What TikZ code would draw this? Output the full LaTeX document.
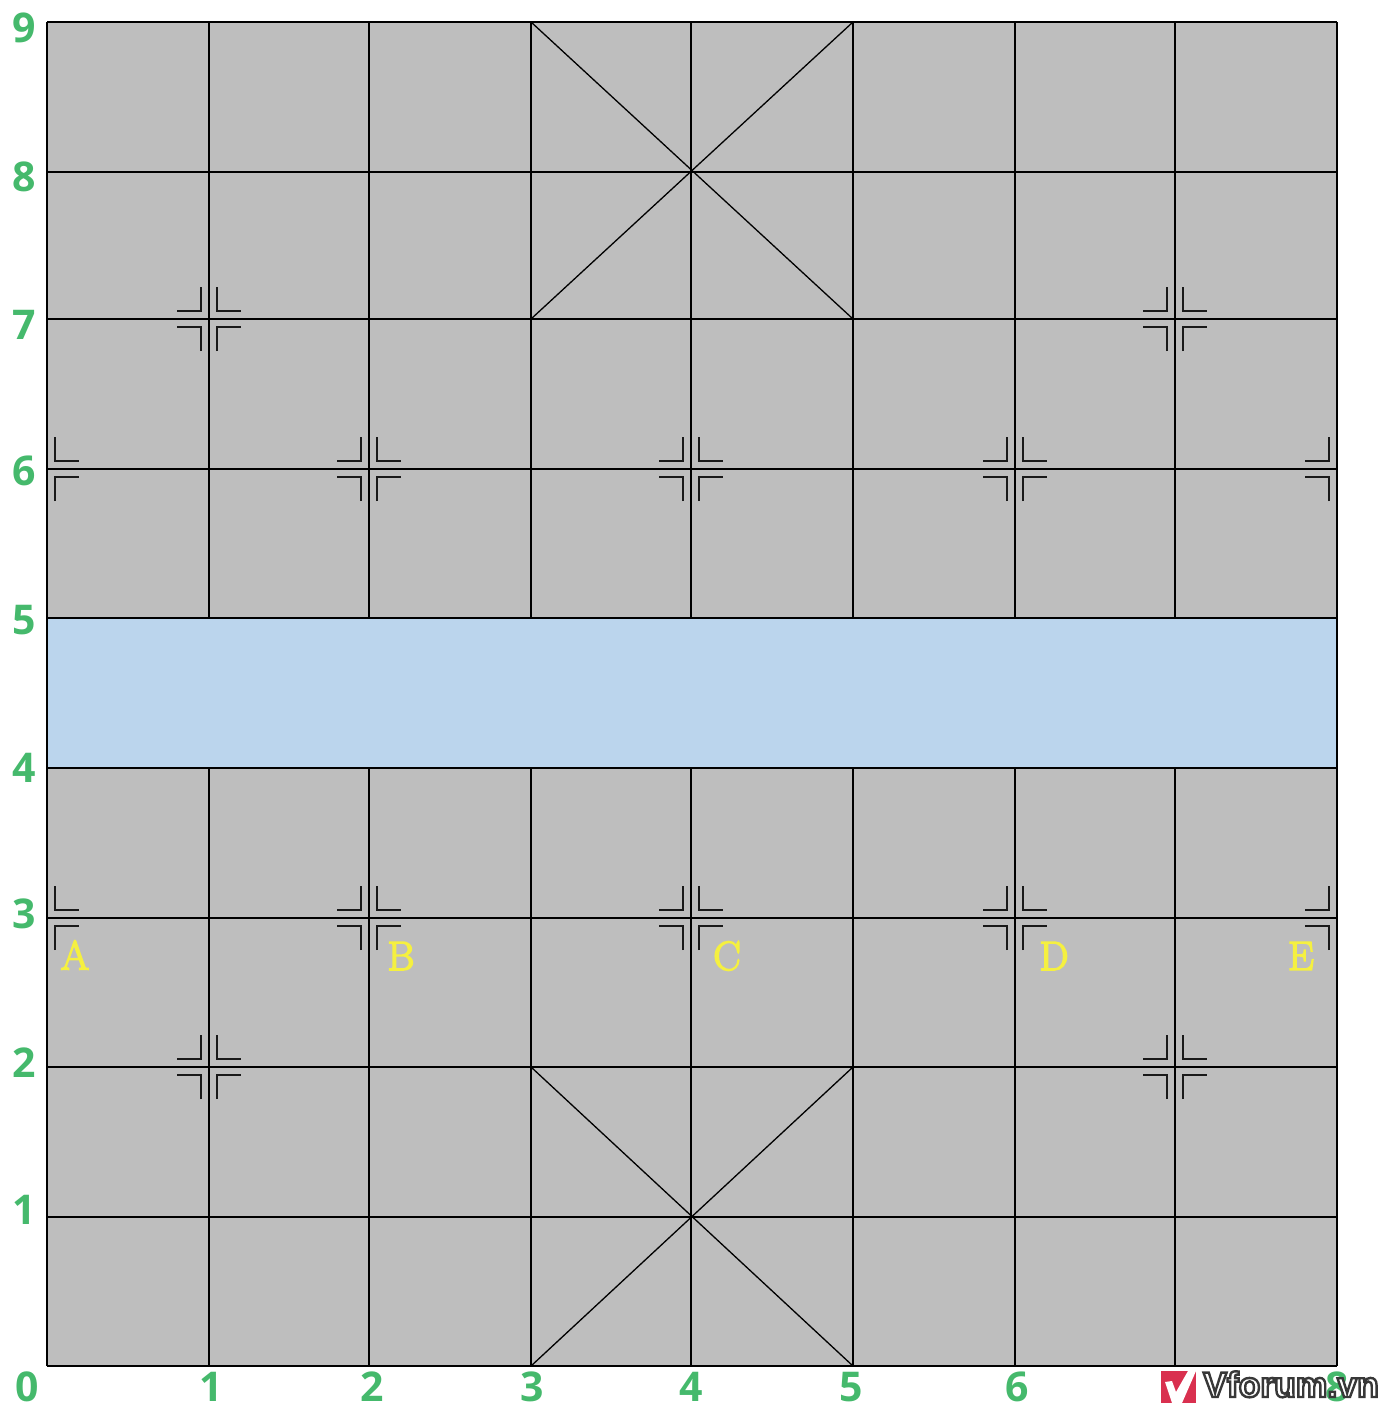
\documentclass[tikz,border=0pt]{standalone}
\usepackage{fontspec}
\setsansfont{Open Sans}
\newfontfamily\logofont{Liberation Sans}
\definecolor{boardgray}{HTML}{BEBEBE}
\definecolor{riverblue}{HTML}{BBD5ED}
\definecolor{labelgreen}{HTML}{45B96C}
\definecolor{logored}{HTML}{D9304F}
\newcommand{\yellowstroke}[1]{\special{pdf:code q 2 Tr 1.5 w 0.96 0.94 0.25 RG 0.96 0.94 0.25 rg}#1\special{pdf:code Q}}
\tikzset{
  x=1pt,y=1pt,
  gridline/.style={black,line width=2pt},
  diagline/.style={black,line width=1.3pt},
  markline/.style={black!90,line width=2pt},
  numlabel/.style={text=labelgreen,font=\sffamily\bfseries\fontsize{41}{41}\selectfont,inner sep=0pt},
  letterlabel/.style={font=\fontsize{41}{41}\selectfont,inner sep=0pt},
  halfE/.pic={
    \draw[markline] (8,32) -- (8,8) -- (32,8);
    \draw[markline] (8,-32) -- (8,-8) -- (32,-8);
  },
  halfW/.pic={
    \draw[markline] (-8,32) -- (-8,8) -- (-32,8);
    \draw[markline] (-8,-32) -- (-8,-8) -- (-32,-8);
  },
  fullmark/.pic={
    \pic {halfE}; \pic {halfW};
  },
}
\begin{document}
\begin{tikzpicture}
\useasboundingbox (0,0) rectangle (1382,-1405);
% grid positions
\coordinate (x0) at (47,0);
\coordinate (x1) at (209,0);
\coordinate (x2) at (369,0);
\coordinate (x3) at (531,0);
\coordinate (x4) at (691,0);
\coordinate (x5) at (853,0);
\coordinate (x6) at (1015,0);
\coordinate (x7) at (1175,0);
\coordinate (x8) at (1337,0);
\coordinate (y9) at (0,-22);
\coordinate (y8) at (0,-172);
\coordinate (y7) at (0,-319);
\coordinate (y6) at (0,-469);
\coordinate (y5) at (0,-618);
\coordinate (y4) at (0,-768);
\coordinate (y3) at (0,-918);
\coordinate (y2) at (0,-1067);
\coordinate (y1) at (0,-1217);
\coordinate (y0) at (0,-1366);
% board and river
\fill[boardgray] (x0 |- y0) rectangle (x8 |- y9);
\fill[riverblue] (x0 |- y4) rectangle (x8 |- y5);
% horizontal lines
\foreach \r in {0,...,9}
  \draw[gridline] (x0 |- y\r) -- (x8 |- y\r);
% outer verticals
\draw[gridline] (x0 |- y0) -- (x0 |- y9);
\draw[gridline] (x8 |- y0) -- (x8 |- y9);
% inner verticals, interrupted by the river
\foreach \c in {1,...,7} {
  \draw[gridline] (x\c |- y0) -- (x\c |- y4);
  \draw[gridline] (x\c |- y5) -- (x\c |- y9);
}
% palace diagonals
\draw[diagline] (x3 |- y0) -- (x5 |- y2);
\draw[diagline] (x3 |- y2) -- (x5 |- y0);
\draw[diagline] (x3 |- y7) -- (x5 |- y9);
\draw[diagline] (x3 |- y9) -- (x5 |- y7);
% position marks
\foreach \c/\r in {1/7,7/7,2/6,4/6,6/6,2/3,4/3,6/3,1/2,7/2}
  \pic at (x\c |- y\r) {fullmark};
\foreach \r in {6,3} {
  \pic at (x0 |- y\r) {halfE};
  \pic at (x8 |- y\r) {halfW};
}
% row numbers
\node[numlabel] (r9) at (24,-28) {9};
\node[numlabel] (r8) at (24,-177) {8};
\node[numlabel] (r7) at (24,-325) {7};
\node[numlabel] (r6) at (24,-471) {6};
\node[numlabel] (r5) at (24,-620) {5};
\node[numlabel] (r4) at (24,-768) {4};
\node[numlabel] (r3) at (24,-914) {3};
\node[numlabel] (r2) at (24,-1063) {2};
\node[numlabel] (r1) at (24,-1210) {1};
% column numbers
\node[numlabel] (c0) at (27,-1387) {0};
\node[numlabel] (c1) at (211,-1387) {1};
\node[numlabel] (c2) at (372,-1387) {2};
\node[numlabel] (c3) at (532,-1387) {3};
\node[numlabel] (c4) at (691,-1387) {4};
\node[numlabel] (c5) at (851,-1387) {5};
\node[numlabel] (c6) at (1017,-1387) {6};
\node[numlabel] (c8) at (1337,-1387) {8};
% letters
\node[letterlabel] (la) at (75,-955) {\yellowstroke{A}};
\node[letterlabel] (lb) at (401,-956) {\yellowstroke{B}};
\node[letterlabel] (lc) at (727,-956) {\yellowstroke{C}};
\node[letterlabel] (ld) at (1054,-956) {\yellowstroke{D}};
\node[letterlabel] (le) at (1301,-956) {\yellowstroke{E}};
% watermark
\fill[logored] (1161,-1371) rectangle (1196,-1403);
\fill[white] (1165,-1382) -- (1172,-1381) -- (1176,-1392) -- (1188,-1371) -- (1196,-1371) -- (1182,-1403) -- (1172,-1403) -- cycle;
\node[anchor=base west,inner sep=0pt] (logo) at (1203,-1397)
  {\logofont\bfseries\fontsize{35.5}{36}\selectfont\special{pdf:code q 2 Tr 2.4 w 0.22 0.22 0.22 RG 1 1 1 rg}Vforum.vn\special{pdf:code Q}};
\end{tikzpicture}
\end{document}
